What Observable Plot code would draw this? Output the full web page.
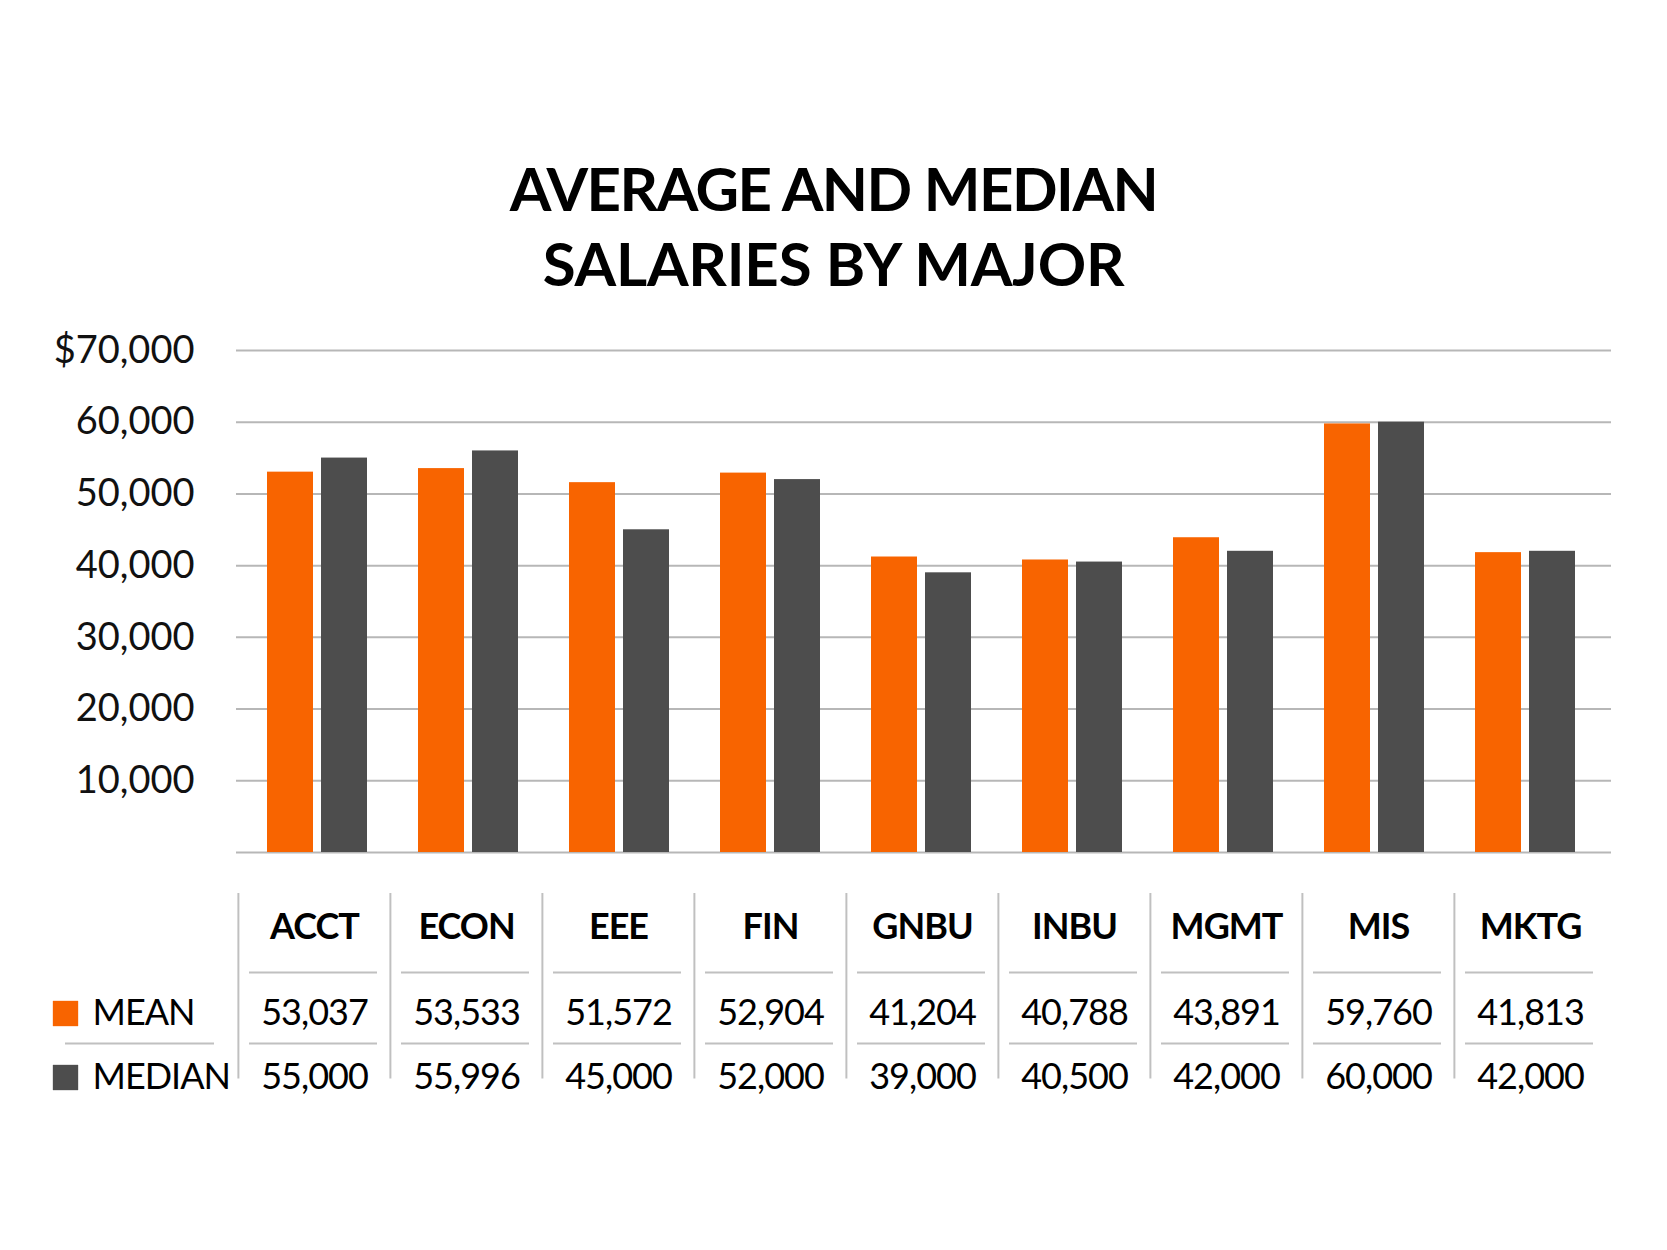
<!DOCTYPE html>
<html>
<head>
<meta charset="utf-8">
<script src="https://cdn.jsdelivr.net/npm/d3@7"></script>
<script src="https://cdn.jsdelivr.net/npm/@observablehq/plot@0.6"></script>
<style>
  html, body { margin: 0; padding: 0; background: #fff; }
  #root { position: relative; width: 1667px; height: 1250px; background: #fff; font-family: Lato, "Open Sans", sans-serif; overflow: hidden; }
  #title { position: absolute; left: 0; top: 151px; width: 1667px; text-align: center; font-size: 60px; font-weight: 700; line-height: 75px; color: #000; margin: 0; }
  #title .l1 { letter-spacing: -1.5px; }
  #title .l2 { letter-spacing: -0.2px; }
  #chart { position: absolute; left: 0; top: 300px; }
  #table { position: absolute; left: 0; top: 880px; }
  #table text { letter-spacing: -1px; }
</style>
</head>
<body>
<div id="root">
  <h1 id="title"><span class="l1">AVERAGE AND MEDIAN</span><br><span class="l2">SALARIES BY MAJOR</span></h1>
  <div id="chart"></div>
  <div id="table"></div>
</div>
<script>
// ---- data ----
const majors = ["ACCT", "ECON", "EEE", "FIN", "GNBU", "INBU", "MGMT", "MIS", "MKTG"];
const meanSalary = [53037, 53533, 51572, 52904, 41204, 40788, 43891, 59760, 41813];
const medianSalary = [55000, 55996, 45000, 52000, 39000, 40500, 42000, 60000, 42000];
const seriesNames = ["MEAN", "MEDIAN"];
const yTicks = [10000, 20000, 30000, 40000, 50000, 60000, 70000];
const gridValues = [0, 10000, 20000, 30000, 40000, 50000, 60000, 70000];

const ORANGE = "#f86400";
const DARK = "#4d4d4d";
const GRID = "#b7b7b7";
const fmt = d3.format(",");

const meanRows = majors.map((m, i) => ({major: m, series: "MEAN", value: meanSalary[i]}));
const medianRows = majors.map((m, i) => ({major: m, series: "MEDIAN", value: medianSalary[i]}));

// ---- chart ----
const chart = Plot.plot({
  width: 1667,
  height: 570,
  marginTop: 50,
  marginBottom: 18,
  marginLeft: 236,
  marginRight: 56,
  style: {fontFamily: "Lato, 'Open Sans', sans-serif", color: "#111", background: "white", overflow: "visible"},
  x: {domain: majors, range: [239, 1603], paddingInner: 0.34, paddingOuter: 0.17, axis: null},
  y: {domain: [0, 70000], axis: null},
  marks: [
    Plot.ruleY(gridValues, {stroke: GRID, strokeWidth: 2}),
    Plot.barY(meanRows, {x: "major", y: "value", fill: ORANGE, insetRight: 54}),
    Plot.barY(medianRows, {x: "major", y: "value", fill: DARK, insetLeft: 54}),
    Plot.axisY({
      ticks: yTicks,
      label: null,
      tickSize: 0,
      tickPadding: 42,
      fontSize: 38,
      tickFormat: d => (d === 70000 ? "$" : "") + fmt(d)
    })
  ]
});
document.getElementById("chart").append(chart);

// ---- data table below the chart ----
const rowKeys = ["header", "mean", "median"];
const colStep = (1607 - 237) / majors.length;
const LINE = "#c0c0c0";
const seriesRow = {MEAN: "mean", MEDIAN: "median"};
const seriesColor = {MEAN: ORANGE, MEDIAN: DARK};
const meanDy = 11;

const table = Plot.plot({
  width: 1667,
  height: 240,
  margin: 0,
  style: {fontFamily: "Lato, 'Open Sans', sans-serif", color: "#000", background: "white", overflow: "visible"},
  x: {domain: majors, range: [237, 1607], padding: 0, axis: null},
  y: {type: "point", domain: rowKeys, range: [46, 197.5], padding: 0, axis: null},
  marks: [
    // column separators
    Plot.ruleX(majors, {x: d => d, y1: () => "header", y2: () => "median", dx: -colStep / 2,
      insetTop: -34, insetBottom: -1.5, stroke: LINE, strokeWidth: 2}),
    // row separator lines
    Plot.tickY(majors, {x: d => d, y: () => "header", dy: 45, insetLeft: 11, insetRight: 13, stroke: LINE, strokeWidth: 2}),
    Plot.tickY(majors, {x: d => d, y: () => "mean", dy: 41, insetLeft: 11, insetRight: 13, stroke: LINE, strokeWidth: 2}),
    Plot.ruleY(["mean"], {y: d => d, dy: 41, insetLeft: 65, insetRight: 1667 - 214, stroke: LINE, strokeWidth: 2}),
    // header
    Plot.text(majors, {x: d => d, y: () => "header", text: d => d, fontSize: 36, fontWeight: 700, fill: "#000"}),
    // values
    Plot.text(majors, {x: d => d, y: () => "mean", text: (d, i) => fmt(meanSalary[i]), dy: meanDy, fontSize: 36, fill: "#000"}),
    Plot.text(majors, {x: d => d, y: () => "median", text: (d, i) => fmt(medianSalary[i]), fontSize: 36, fill: "#000"}),
    // legend
    Plot.dot(["MEAN"], {y: d => seriesRow[d], frameAnchor: "left", dx: 65, dy: meanDy, symbol: "square", r: 14.3,
      fill: d => seriesColor[d], stroke: null}),
    Plot.dot(["MEDIAN"], {y: d => seriesRow[d], frameAnchor: "left", dx: 65, symbol: "square", r: 14.3,
      fill: d => seriesColor[d], stroke: null}),
    Plot.text(["MEAN"], {y: d => seriesRow[d], text: d => d, frameAnchor: "left", textAnchor: "start", dx: 92, dy: meanDy, fontSize: 36, fill: "#000"}),
    Plot.text(["MEDIAN"], {y: d => seriesRow[d], text: d => d, frameAnchor: "left", textAnchor: "start", dx: 92, fontSize: 36, fill: "#000"})
  ]
});
document.getElementById("table").append(table);
</script>
</body>
</html>
